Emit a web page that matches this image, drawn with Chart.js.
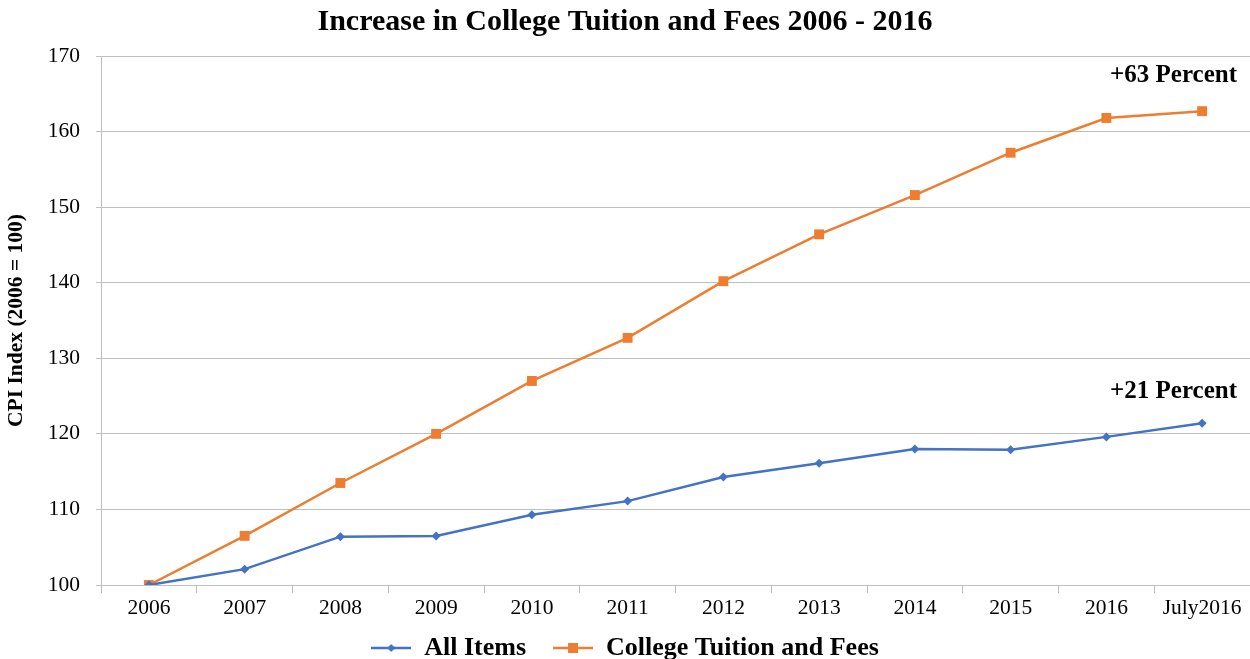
<!DOCTYPE html>
<html>
<head>
<meta charset="utf-8">
<script src="https://cdn.jsdelivr.net/npm/chart.js@4"></script>
<style>
    html, body { margin: 0; padding: 0; background: #fff; overflow: hidden; }
    #wrap { width: 1250px; height: 659px; }
</style>
</head>
<body>
<div id="wrap"><canvas id="cpiChart"></canvas></div>
<script>
// 資料
const years = ['2006', '2007', '2008', '2009', '2010', '2011', '2012', '2013', '2014', '2015', '2016', 'July2016'];
const allItems = [100, 102.1, 106.4, 106.5, 109.3, 111.1, 114.3, 116.1, 118.0, 117.9, 119.6, 121.4];
const tuition = [100, 106.5, 113.5, 120.0, 127.0, 132.7, 140.2, 146.4, 151.6, 157.2, 161.8, 162.7];
const notes = [
    {text: '+63 Percent', y: 167.35},
    {text: '+21 Percent', y: 125.65}
];

const blue = '#4472C4';
const orange = '#ED7D31';
const gridColor = '#BFBFBF';
const serif = "'Liberation Serif', 'Times New Roman', serif";

// 圖例用的小圖（線 + 標記）
function legendIcon(color, shape) {
    const c = document.createElement('canvas');
    c.width = 40;
    c.height = 14;
    const ctx = c.getContext('2d');
    ctx.strokeStyle = color;
    ctx.lineWidth = 2.5;
    ctx.beginPath();
    ctx.moveTo(0, 7);
    ctx.lineTo(40, 7);
    ctx.stroke();
    ctx.fillStyle = color;
    if (shape === 'rect') {
        ctx.fillRect(15, 2, 10, 10);
    } else {
        ctx.beginPath();
        ctx.moveTo(20, 3);
        ctx.lineTo(24, 7);
        ctx.lineTo(20, 11);
        ctx.lineTo(16, 7);
        ctx.closePath();
        ctx.fill();
    }
    return c;
}
const icons = [legendIcon(blue, 'diamond'), legendIcon(orange, 'rect')];

// 註解文字
const notePlugin = {
    id: 'notes',
    afterDatasetsDraw(chart) {
        const ctx = chart.ctx;
        const y = chart.scales.y;
        ctx.save();
        ctx.font = 'bold 25px ' + serif;
        ctx.fillStyle = '#000';
        ctx.textAlign = 'right';
        ctx.textBaseline = 'middle';
        notes.forEach(n => {
            ctx.fillText(n.text, chart.chartArea.right - 13, y.getPixelForValue(n.y));
        });
        ctx.restore();
    }
};

const chartData = {
    labels: years,
    datasets: [
        {
            label: 'All Items',
            data: allItems,
            borderColor: blue,
            backgroundColor: blue,
            borderWidth: 2.5,
            pointStyle: 'rectRot',
            pointRadius: 4.5,
            pointBorderWidth: 0
        },
        {
            label: 'College Tuition and Fees',
            data: tuition,
            borderColor: orange,
            backgroundColor: orange,
            borderWidth: 2.5,
            pointStyle: 'rect',
            pointRadius: 7,
            pointBorderWidth: 0
        }
    ]
};

const chartOptions = {
    responsive: true,
    maintainAspectRatio: false,
    animation: false,
    layout: {
        autoPadding: false,
        padding: {left: 0, right: 0, top: 0, bottom: -12}
    },
    plugins: {
        title: {
            display: true,
            text: 'Increase in College Tuition and Fees 2006 - 2016',
            color: '#000',
            font: {family: serif, size: 30, weight: 'bold', lineHeight: 1.2},
            padding: {top: 4, bottom: 16}
        },
        legend: {
            position: 'bottom',
            labels: {
                color: '#000',
                font: {family: serif, size: 26, weight: 'bold', lineHeight: 1},
                usePointStyle: true,
                pointStyleWidth: 40,
                padding: 1,
                generateLabels(chart) {
                    return chart.data.datasets.map((ds, i) => ({
                        text: i === 0 ? ds.label + '\u2003' : ds.label,
                        pointStyle: icons[i],
                        fillStyle: ds.borderColor,
                        strokeStyle: ds.borderColor,
                        lineWidth: 0,
                        hidden: false,
                        datasetIndex: i
                    }));
                }
            }
        },
        tooltip: {enabled: false}
    },
    scales: {
        x: {
            offset: true,
            grid: {
                offset: true,
                drawOnChartArea: false,
                drawTicks: true,
                tickLength: 8,
                color: gridColor
            },
            border: {color: gridColor, width: 1},
            ticks: {
                color: '#000',
                font: {family: serif, size: 21.5},
                padding: 2,
                maxRotation: 0,
                autoSkip: false
            },
            afterFit(scale) {
                scale.height = 49;
                scale.paddingLeft = 0;
                scale.paddingRight = 0;
            }
        },
        y: {
            min: 100,
            max: 170,
            ticks: {
                stepSize: 10,
                color: '#000',
                font: {family: serif, size: 21.5},
                padding: 16
            },
            grid: {
                color: gridColor,
                tickLength: 5
            },
            border: {color: gridColor, width: 1},
            title: {
                display: true,
                text: 'CPI Index (2006 = 100)',
                color: '#000',
                font: {family: serif, size: 21.5, weight: 'bold'},
                padding: {top: 4, bottom: 0}
            },
            afterFit(scale) {
                scale.width = 101;
            }
        }
    }
};

const cpiChart = new Chart(document.getElementById('cpiChart'), {
    type: 'line',
    data: chartData,
    options: chartOptions,
    plugins: [notePlugin]
});
</script>
</body>
</html>
